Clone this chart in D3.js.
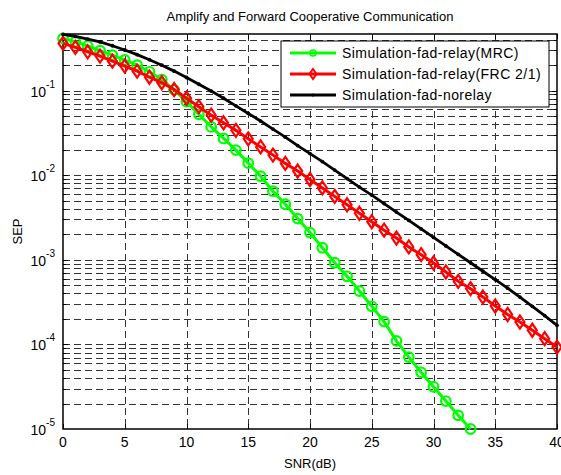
<!DOCTYPE html>
<html>
<head>
<meta charset="utf-8">
<script src="https://cdn.jsdelivr.net/npm/d3@7"></script>
<style>
  body { margin: 0; background: #fff; }
  svg { font-family: "Liberation Sans", Arial, sans-serif; }
</style>
</head>
<body>
<svg id="chart" width="561" height="475"></svg>
<script>
// SNR axis (dB)
const snrFull = d3.range(0, 41);
const snrMrc = d3.range(0, 34);

// SEP
const sepMrc = [
  0.415, 0.378, 0.337, 0.296, 0.263, 0.230, 0.200, 0.167, 0.135, 0.102,
  0.0741, 0.0525, 0.0372, 0.0272, 0.0198, 0.0139, 0.00973, 0.00647, 0.00454, 0.00307,
  0.00210, 0.00139, 9.23e-4, 6.38e-4, 4.27e-4, 2.82e-4, 1.86e-4, 1.10e-4, 7.08e-5, 4.68e-5,
  3.16e-5, 2.14e-5, 1.45e-5, 1.0e-5
];
const sepFrc = [
  0.362, 0.324, 0.288, 0.256, 0.223, 0.195, 0.170, 0.144, 0.124, 0.103,
  0.0813, 0.0646, 0.0513, 0.0417, 0.0339, 0.0269, 0.0216, 0.0173, 0.0138, 0.0112,
  0.00891, 0.00708, 0.00562, 0.00447, 0.00355, 0.00282, 0.00224, 0.00181, 0.00142, 0.00115,
  9.16e-4, 7.18e-4, 5.57e-4, 4.56e-4, 3.63e-4, 2.84e-4, 2.26e-4, 1.84e-4, 1.47e-4, 1.17e-4,
  9.29e-5
];
const sepNoRelay = [
  0.462, 0.437, 0.407, 0.376, 0.339, 0.302, 0.266, 0.232, 0.200, 0.170,
  0.143, 0.119, 0.0989, 0.0813, 0.0661, 0.0537, 0.0437, 0.0351, 0.0282, 0.0224,
  0.0180, 0.0145, 0.0115, 0.00912, 0.00724, 0.00582, 0.00462, 0.00367, 0.00292, 0.00232,
  0.00184, 0.00146, 0.00116, 9.23e-4, 7.33e-4, 5.82e-4, 4.62e-4, 3.63e-4, 2.82e-4, 2.19e-4,
  1.68e-4
];

const xTicks = [0, 5, 10, 15, 20, 25, 30, 35, 40];
const yExponents = [-5, -4, -3, -2, -1];
const legendLabels = [
  'Simulation-fad-relay(MRC)',
  'Simulation-fad-relay(FRC 2/1)',
  'Simulation-fad-norelay'
];

const svg = d3.select('#chart');
const margin = { top: 34, right: 4, bottom: 46, left: 63 };
const width = 561 - margin.left - margin.right;
const height = 475 - margin.top - margin.bottom;

const x = d3.scaleLinear().domain([0, 40]).range([0, width]);
const y = d3.scaleLog().domain([1e-5, 0.467]).range([height, 0]);

const g = svg.append('g').attr('transform', `translate(${margin.left},${margin.top})`);

// grid: verticals
const gridDash = '7,4';
g.selectAll('.vgrid')
  .data(xTicks.filter(d => d > 0 && d < 40))
  .enter().append('line')
  .attr('x1', d => Math.round(x(d)) + 0.5).attr('x2', d => Math.round(x(d)) + 0.5)
  .attr('y1', 0).attr('y2', height)
  .attr('stroke', '#333').attr('stroke-width', 1)
  .attr('stroke-dasharray', gridDash);

// grid: horizontal major + minor (log)
const yGrid = [];
yExponents.forEach(e => {
  for (let m = 1; m <= 9; m++) {
    const v = m * Math.pow(10, e);
    if (v > 1e-5 && v < 0.467) yGrid.push(v);
  }
});
g.selectAll('.hgrid')
  .data(yGrid)
  .enter().append('line')
  .attr('x1', 0).attr('x2', width)
  .attr('y1', d => Math.round(y(d)) + 0.5).attr('y2', d => Math.round(y(d)) + 0.5)
  .attr('stroke', '#333').attr('stroke-width', 1)
  .attr('stroke-dasharray', gridDash);

// ticks on all four sides (inward)
const tickG = g.append('g').attr('stroke', '#000').attr('stroke-width', 1);
xTicks.forEach(t => {
  const xx = Math.round(x(t)) + 0.5;
  tickG.append('line').attr('x1', xx).attr('x2', xx).attr('y1', height).attr('y2', height - 5);
  tickG.append('line').attr('x1', xx).attr('x2', xx).attr('y1', 0).attr('y2', 5);
});
yGrid.forEach(v => {
  const major = Math.abs(Math.log10(v) - Math.round(Math.log10(v))) < 1e-9;
  const len = major ? 5 : 3;
  const yy = Math.round(y(v)) + 0.5;
  tickG.append('line').attr('x1', 0).attr('x2', len).attr('y1', yy).attr('y2', yy);
  tickG.append('line').attr('x1', width).attr('x2', width - len).attr('y1', yy).attr('y2', yy);
});

// axes box
g.append('rect')
  .attr('x', 0).attr('y', 0).attr('width', width).attr('height', height)
  .attr('fill', 'none').attr('stroke', '#000').attr('stroke-width', 1.5);

// x tick labels
g.selectAll('.xlab')
  .data(xTicks)
  .enter().append('text')
  .attr('x', d => x(d)).attr('y', height + 18)
  .attr('text-anchor', 'middle')
  .attr('font-size', 14)
  .text(d => d);

// y tick labels "10^e"
yExponents.forEach(e => {
  const t = g.append('text')
    .attr('x', -8).attr('y', y(Math.pow(10, e)) + 6)
    .attr('text-anchor', 'end')
    .attr('font-size', 14);
  t.append('tspan').text('10');
  t.append('tspan').attr('font-size', 10).attr('dy', -9).text(e);
});

// title and axis labels
svg.append('text')
  .attr('x', margin.left + width / 2).attr('y', 21)
  .attr('text-anchor', 'middle').attr('font-size', 13)
  .text('Amplify and Forward Cooperative Communication');
svg.append('text')
  .attr('x', margin.left + width / 2).attr('y', 468)
  .attr('text-anchor', 'middle').attr('font-size', 13)
  .text('SNR(dB)');
svg.append('text')
  .attr('transform', `translate(22,${margin.top + height / 2}) rotate(-90)`)
  .attr('text-anchor', 'middle').attr('font-size', 13)
  .text('SEP');

// series
const line = d3.line().x(d => x(d[0])).y(d => y(d[1]));
const mrc = snrMrc.map((s, i) => [s, sepMrc[i]]);
const frc = snrFull.map((s, i) => [s, sepFrc[i]]);
const nor = snrFull.map((s, i) => [s, sepNoRelay[i]]);

const diamond = (cx, cy, w, h) => `M${cx},${cy - h}L${cx + w},${cy}L${cx},${cy + h}L${cx - w},${cy}Z`;

function drawGreen(sel, data) {
  sel.append('path').datum(data).attr('d', line)
    .attr('fill', 'none').attr('stroke', '#00ff00').attr('stroke-width', 3);
  sel.selectAll('.mrc').data(data).enter().append('circle')
    .attr('cx', d => x(d[0])).attr('cy', d => y(d[1])).attr('r', 4.8)
    .attr('fill', 'none').attr('stroke', '#00ff00').attr('stroke-width', 2.2);
}
function drawRed(sel, data) {
  sel.append('path').datum(data).attr('d', line)
    .attr('fill', 'none').attr('stroke', '#ff0000').attr('stroke-width', 3);
  sel.selectAll('.frc').data(data).enter().append('path')
    .attr('d', d => diamond(x(d[0]), y(d[1]), 4.5, 6.5))
    .attr('fill', 'none').attr('stroke', '#ff0000').attr('stroke-width', 2.2);
}

drawGreen(g.append('g'), mrc);
drawRed(g.append('g'), frc);

const blackG = g.append('g');
blackG.append('path').datum(nor).attr('d', line)
  .attr('fill', 'none').attr('stroke', '#000').attr('stroke-width', 2.8);
blackG.selectAll('circle').data(nor).enter().append('circle')
  .attr('cx', d => x(d[0])).attr('cy', d => y(d[1])).attr('r', 1.9)
  .attr('fill', '#000');

// legend
const lg = svg.append('g').attr('transform', 'translate(281,41)');
lg.append('rect').attr('width', 268).attr('height', 66)
  .attr('fill', '#fff').attr('stroke', '#000').attr('stroke-width', 1);
const legendColors = ['#00ff00', '#ff0000', '#000'];
legendLabels.forEach((lab, i) => {
  const cy = 12 + i * 21;
  lg.append('line').attr('x1', 9).attr('x2', 55).attr('y1', cy).attr('y2', cy)
    .attr('stroke', legendColors[i]).attr('stroke-width', 3);
  if (i === 0) {
    lg.append('circle').attr('cx', 32).attr('cy', cy).attr('r', 3)
      .attr('fill', 'none').attr('stroke', legendColors[i]).attr('stroke-width', 1.5);
  } else if (i === 1) {
    lg.append('path').attr('d', diamond(32, cy, 3.5, 5))
      .attr('fill', 'none').attr('stroke', legendColors[i]).attr('stroke-width', 2);
  } else {
    lg.append('circle').attr('cx', 32).attr('cy', cy).attr('r', 1.5).attr('fill', '#000');
  }
  lg.append('text').attr('x', 61).attr('y', cy + 5)
    .attr('font-size', 14).attr('letter-spacing', 0.45).text(lab);
});
</script>
</body>
</html>
